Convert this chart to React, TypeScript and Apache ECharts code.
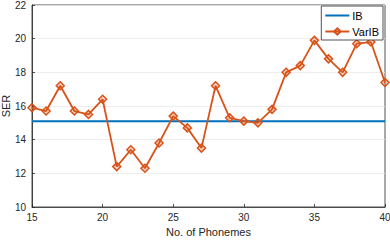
import React, { useEffect, useRef } from "react";
import * as echarts from "echarts";

const phonemes = [15, 16, 17, 18, 19, 20, 21, 22, 23, 24, 25, 26, 27, 28, 29, 30, 31, 32, 33, 34, 35, 36, 37, 38, 39, 40];
const ibValues = phonemes.map(() => 15.1);
const varIbValues = [15.9, 15.7, 17.2, 15.7, 15.5, 16.4, 12.4, 13.4, 12.3, 13.8, 15.4, 14.7, 13.5, 17.2, 15.3, 15.1, 15.0, 15.8, 18.0, 18.4, 19.9, 18.8, 18.0, 19.7, 19.8, 17.4];

const BLUE = "#0072BD";
const ORANGE = "#D95319";
const FONT = "Liberation Sans, Arial, sans-serif";

export default function App() {
  const ref = useRef<HTMLDivElement>(null);
  useEffect(() => {
    if (!ref.current) return;
    const chart = echarts.init(ref.current, null, { renderer: "svg" });
    const axisCommon = {
      axisLine: { show: true, onZero: false, lineStyle: { color: "#262626", width: 0.8 } },
      axisTick: { show: true, inside: true, length: 3, lineStyle: { color: "#262626", width: 0.8 } },
      axisLabel: { color: "#262626", fontSize: 10, fontFamily: FONT },
      nameTextStyle: { color: "#262626", fontSize: 11, fontFamily: FONT },
    };
    chart.setOption({
      animation: false,
      backgroundColor: "#ffffff",
      grid: {
        left: 32, right: 5, top: 5, bottom: 34,
        outerBoundsMode: "none",
        containLabel: false,
        show: true, borderColor: "#262626", borderWidth: 0.8,
      },
      legend: {
        orient: "vertical",
        right: 7,
        top: 6,
        itemWidth: 24,
        itemHeight: 8,
        itemGap: 5,
        padding: [4, 4, 3, 3],
        backgroundColor: "#ffffff",
        borderColor: "#262626",
        borderWidth: 0.8,
        borderRadius: 0,
        textStyle: { color: "#000", fontSize: 11, fontFamily: FONT, padding: [0, 0, 0, -2] },
        data: [{ name: "IB", itemStyle: { opacity: 0 } }, { name: "VarIB" }],
      },
      xAxis: {
        type: "value",
        min: 15,
        max: 40,
        interval: 5,
        name: "No. of Phonemes",
        nameLocation: "middle",
        nameGap: 19,
        nameMoveOverlap: false,
        splitLine: { show: false },
        ...axisCommon,
        axisLabel: { ...axisCommon.axisLabel, margin: 5 },
      },
      yAxis: {
        type: "value",
        min: 10,
        max: 22,
        interval: 2,
        name: "SER",
        nameLocation: "middle",
        nameGap: 21,
        nameMoveOverlap: false,
        splitLine: { show: true, lineStyle: { color: "#e8e8e8", width: 0.8 } },
        ...axisCommon,
        axisLabel: { ...axisCommon.axisLabel, margin: 6 },
      },
      series: [
        {
          name: "IB",
          type: "line",
          data: phonemes.map((x, i) => [x, ibValues[i]]),
          symbol: "none",
          lineStyle: { color: BLUE, width: 2 },
          itemStyle: { color: BLUE },
        },
        {
          name: "VarIB",
          type: "line",
          data: phonemes.map((x, i) => [x, varIbValues[i]]),
          symbol: "diamond",
          symbolSize: 8,
          lineStyle: { color: ORANGE, width: 1.8 },
          itemStyle: { color: "rgba(217,83,25,0.25)", borderColor: ORANGE, borderWidth: 1.5 },
          z: 3,
        },
      ],
    });
    return () => chart.dispose();
  }, []);
  return <div ref={ref} style={{ width: 390, height: 241, position: "fixed", left: 0, top: 0 }} />;
}
